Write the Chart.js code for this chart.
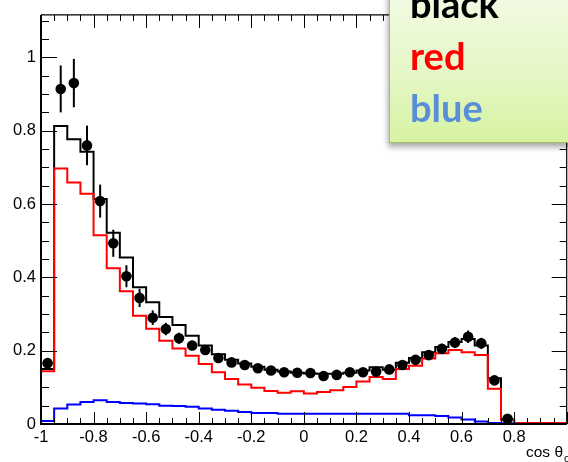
<!DOCTYPE html>
<html>
<head>
<meta charset="utf-8">
<script src="https://cdn.jsdelivr.net/npm/chart.js@4"></script>
<style>
  html, body { margin: 0; padding: 0; background: #fff; overflow: hidden; }
  #wrap { position: relative; width: 568px; height: 462px; overflow: hidden; }
  #plot { position: absolute; left: 0; top: 0; }
  #note {
    position: absolute; left: 389px; top: -14px; width: 200px; height: 157px;
    box-sizing: border-box;
    background: linear-gradient(to bottom, #f3fbe6 0%, #e5f7c6 55%, #d6f3a2 100%);
    border: 1.5px solid #a3c05f;
    box-shadow: -1px 4px 6px rgba(0, 0, 0, 0.35);
  }
  #noteText {
    position: absolute; left: 410px; top: -23px;
    font-family: Lato, sans-serif; font-weight: 700; font-size: 38px; line-height: 52px;
  }
</style>
</head>
<body>
<div id="wrap">
  <canvas id="plot" width="572" height="462"></canvas>
  <div id="note"></div>
  <div id="noteText">
    <div style="color:#000">black</div>
    <div style="color:#ff0000">red</div>
    <div style="color:#5a8fd8">blue</div>
  </div>
</div>
<script>
// Bin lower edges (width 0.05)
const binLow = [-1, -0.95, -0.9, -0.85, -0.8, -0.75, -0.7, -0.65, -0.6, -0.55,
                -0.5, -0.45, -0.4, -0.35, -0.3, -0.25, -0.2, -0.15, -0.1, -0.05,
                0, 0.05, 0.1, 0.15, 0.2, 0.25, 0.3, 0.35, 0.4, 0.45,
                0.5, 0.55, 0.6, 0.65, 0.7, 0.75, 0.8, 0.85, 0.9, 0.95];
const binWidth = 0.05;

// Histograms
const blackHist = [0.150, 0.813, 0.777, 0.743, 0.614, 0.522, 0.454, 0.373, 0.332, 0.292,
                   0.270, 0.241, 0.214, 0.190, 0.175, 0.165, 0.156, 0.148, 0.143, 0.140,
                   0.138, 0.137, 0.137, 0.140, 0.146, 0.155, 0.148, 0.167, 0.180, 0.196,
                   0.210, 0.224, 0.232, 0.214, 0.125, 0.012, 0.002, 0.002, 0.002, 0.002];
const redHist = [0.144, 0.697, 0.659, 0.628, 0.515, 0.425, 0.362, 0.295, 0.260, 0.227,
                 0.206, 0.186, 0.164, 0.141, 0.123, 0.108, 0.099, 0.090, 0.085, 0.089,
                 0.083, 0.087, 0.092, 0.101, 0.116, 0.128, 0.123, 0.150, 0.159, 0.179,
                 0.193, 0.202, 0.196, 0.188, 0.096, 0.012, 0.003, 0.003, 0.003, 0.003];
const blueHist = [0.008, 0.042, 0.053, 0.060, 0.065, 0.060, 0.057, 0.056, 0.054, 0.050,
                  0.049, 0.047, 0.042, 0.039, 0.036, 0.033, 0.030, 0.030, 0.028, 0.028,
                  0.028, 0.028, 0.028, 0.028, 0.028, 0.028, 0.028, 0.028, 0.024, 0.024,
                  0.022, 0.018, 0.012, 0.007, 0.003, 0.002, 0.000, 0.000, 0.000, 0.000];

// Data points with errors
const dataVals = [0.166, 0.914, 0.930, 0.760, 0.608, 0.493, 0.403, 0.344, 0.290, 0.259,
                  0.234, 0.214, 0.202, 0.180, 0.168, 0.161, 0.152, 0.146, 0.141, 0.140,
                  0.139, 0.131, 0.134, 0.141, 0.141, 0.143, 0.149, 0.161, 0.175, 0.188,
                  0.205, 0.222, 0.238, 0.220, 0.119, 0.014, null, null, null, null];
const dataErr = [0.012, 0.064, 0.066, 0.054, 0.045, 0.037, 0.030, 0.025, 0.020, 0.017,
                 0.015, 0.013, 0.012, 0.011, 0.010, 0.010, 0.010, 0.010, 0.010, 0.010,
                 0.010, 0.010, 0.010, 0.010, 0.010, 0.010, 0.010, 0.011, 0.012, 0.013,
                 0.014, 0.015, 0.017, 0.015, 0.013, 0.010, 0, 0, 0, 0];

// Axis ticks
const xTicks = [-1, -0.8, -0.6, -0.4, -0.2, 0, 0.2, 0.4, 0.6, 0.8];
const yTicks = [0, 0.2, 0.4, 0.6, 0.8, 1];
const xTitle = 'cos θ';
const xTitleSub = 'c';

const tickFont = { family: '"Liberation Sans", Arial, sans-serif', size: 16.5 };

// Build step outline for a histogram
function stepPoints(values) {
    const pts = [{ x: binLow[0], y: 0 }];
    values.forEach((v, i) => pts.push({ x: binLow[i], y: v }));
    pts.push({ x: binLow[binLow.length - 1] + binWidth, y: values[values.length - 1] });
    return pts;
}

function histDataset(values, color) {
    return {
        data: stepPoints(values),
        borderColor: color,
        borderWidth: 2,
        stepped: 'before',
        pointRadius: 0,
        fill: false,
        tension: 0
    };
}

const pointData = [];
dataVals.forEach((v, i) => {
    if (v !== null) pointData.push({ x: binLow[i] + binWidth / 2, y: v });
});

// Vertical error bars under the markers
const errorBars = {
    id: 'errorBars',
    beforeDatasetDraw(chart, args) {
        if (args.index !== 0) return;
        const { ctx, scales: { x, y } } = chart;
        ctx.save();
        ctx.strokeStyle = '#000';
        ctx.lineWidth = 2;
        dataVals.forEach((v, i) => {
            if (v === null) return;
            const px = x.getPixelForValue(binLow[i] + binWidth / 2);
            ctx.beginPath();
            ctx.moveTo(px, y.getPixelForValue(v - dataErr[i]));
            ctx.lineTo(px, y.getPixelForValue(v + dataErr[i]));
            ctx.stroke();
        });
        ctx.restore();
    }
};

// ROOT style frame with inward ticks on all four sides
const rootFrame = {
    id: 'rootFrame',
    afterDraw(chart) {
        const { ctx, chartArea: a, scales: { x, y } } = chart;
        ctx.save();
        ctx.strokeStyle = '#000';
        ctx.lineWidth = 1.2;
        ctx.beginPath();
        ctx.moveTo(a.left, a.top); ctx.lineTo(a.right, a.top); ctx.lineTo(a.right, a.bottom);
        ctx.stroke();
        ctx.lineWidth = 2;
        ctx.beginPath();
        ctx.moveTo(a.left, a.top); ctx.lineTo(a.left, a.bottom); ctx.lineTo(a.right, a.bottom);
        ctx.stroke();

        ctx.lineWidth = 1;
        ctx.beginPath();
        for (let i = 0; i <= 40; i++) {
            const px = Math.round(x.getPixelForValue(-1 + i * 0.05)) + 0.5;
            const major = i % 4 === 0;
            ctx.moveTo(px, a.bottom); ctx.lineTo(px, a.bottom - (major ? 12 : 6));
            ctx.moveTo(px, a.top); ctx.lineTo(px, a.top + (major ? 13 : 6));
        }
        for (let i = 0; i <= 22; i++) {
            const py = Math.round(y.getPixelForValue(i * 0.05)) + 0.5;
            const major = i % 4 === 0;
            ctx.moveTo(a.left, py); ctx.lineTo(a.left + (major ? 16 : 8), py);
            ctx.moveTo(a.right, py); ctx.lineTo(a.right - (major ? 15 : 7), py);
        }
        ctx.stroke();

        ctx.fillStyle = '#000';
        ctx.textBaseline = 'alphabetic';
        ctx.textAlign = 'left';
        ctx.font = '15.5px "Liberation Sans", Arial, sans-serif';
        ctx.fillText(xTitle, 526, 457);
        const w = ctx.measureText(xTitle).width;
        ctx.font = '11px "Liberation Sans", Arial, sans-serif';
        ctx.fillText(xTitleSub, 526 + w + 1, 462);
        ctx.restore();
    }
};

const ctx = document.getElementById('plot').getContext('2d');
new Chart(ctx, {
    type: 'line',
    data: {
        datasets: [
            {
                data: pointData,
                showLine: false,
                pointRadius: 5.3,
                pointBackgroundColor: '#000',
                pointBorderWidth: 0
            },
            histDataset(redHist, '#ff0000'),
            histDataset(blackHist, '#000000'),
            histDataset(blueHist, '#0000ff')
        ]
    },
    options: {
        responsive: false,
        animation: false,
        layout: { padding: { top: 11, right: 1, left: 0, bottom: 0 } },
        plugins: { legend: { display: false }, tooltip: { enabled: false } },
        scales: {
            x: {
                type: 'linear',
                min: -1,
                max: 1,
                grid: { display: false, drawTicks: false },
                border: { display: false },
                afterBuildTicks: s => { s.ticks = xTicks.map(v => ({ value: v })); },
                afterFit: s => { s.height = 38; },
                ticks: {
                    padding: 4,
                    color: '#000',
                    font: tickFont,
                    maxRotation: 0,
                    autoSkip: false,
                    callback: v => String(v)
                }
            },
            y: {
                type: 'linear',
                min: 0,
                max: 1.116,
                grid: { display: false, drawTicks: false },
                border: { display: false },
                afterBuildTicks: s => { s.ticks = yTicks.map(v => ({ value: v })); },
                afterFit: s => { s.width = 41; },
                ticks: {
                    padding: 5,
                    color: '#000',
                    font: tickFont,
                    callback: v => String(v)
                }
            }
        }
    },
    plugins: [errorBars, rootFrame]
});
</script>
</body>
</html>
